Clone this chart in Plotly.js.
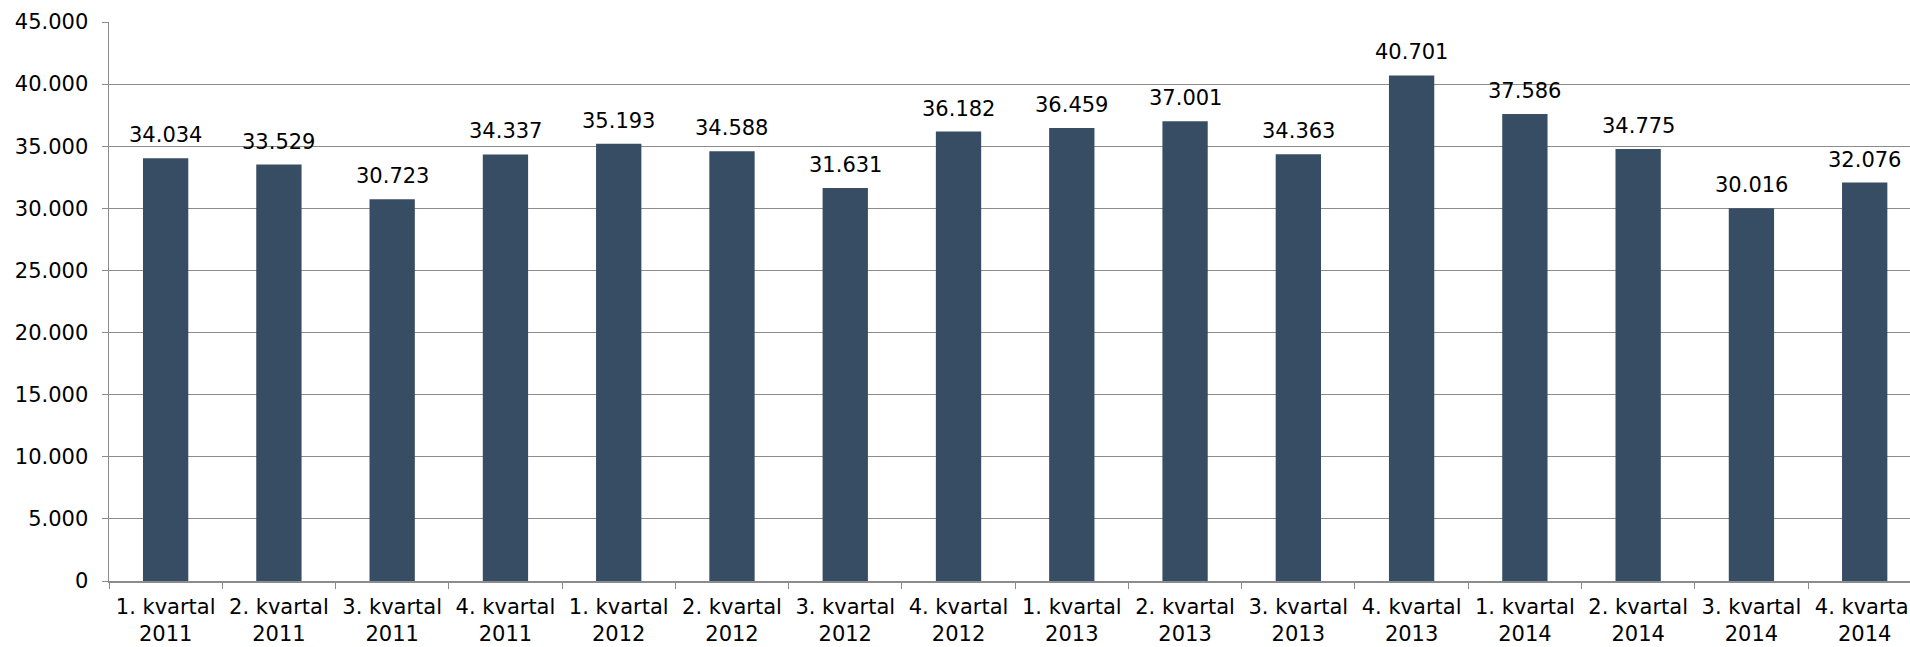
<!DOCTYPE html>
<html>
<head>
<meta charset="utf-8">
<script src="https://cdn.plot.ly/plotly-3.0.1.min.js"></script>
<style>
html,body{margin:0;padding:0;background:#fff;overflow:hidden;}
#chart{width:1910px;height:647px;}
</style>
</head>
<body>
<div id="chart"></div>
<script>
const categories = [
  "1. kvartal<br>2011","2. kvartal<br>2011","3. kvartal<br>2011","4. kvartal<br>2011",
  "1. kvartal<br>2012","2. kvartal<br>2012","3. kvartal<br>2012","4. kvartal<br>2012",
  "1. kvartal<br>2013","2. kvartal<br>2013","3. kvartal<br>2013","4. kvartal<br>2013",
  "1. kvartal<br>2014","2. kvartal<br>2014","3. kvartal<br>2014","4. kvartal<br>2014"
];
const values = [34034,33529,30723,34337,35193,34588,31631,36182,36459,37001,34363,40701,37586,34775,30016,32076];
const yTicks = [0,5000,10000,15000,20000,25000,30000,35000,40000,45000];

const FONT = 'DejaVu Sans, Verdana, sans-serif';

function fmt(v) {
  return String(v).replace(/\B(?=(\d{3})+(?!\d))/g, '.');
}

const trace = {
  type: 'bar',
  x: categories,
  y: values,
  marker: {color: '#374d63'},
  width: 0.4,
  hoverinfo: 'none'
};

const annotations = categories.map((c, i) => ({
  x: c,
  y: values[i],
  xref: 'x',
  yref: 'y',
  text: fmt(values[i]),
  showarrow: false,
  yanchor: 'bottom',
  xanchor: 'center',
  yshift: 9,
  font: {family: FONT, size: 21, color: '#000'}
}));

const layout = {
  width: 1910,
  height: 647,
  separators: ',.',
  margin: {l: 109, r: 0, t: 22, b: 66},
  paper_bgcolor: '#fff',
  plot_bgcolor: '#fff',
  showlegend: false,
  font: {family: FONT, size: 21, color: '#000'},
  annotations: annotations,
  xaxis: {
    type: 'category',
    range: [-0.5, 15.4],
    showgrid: false,
    showline: true,
    linecolor: '#8c8c8c',
    linewidth: 1.5,
    ticks: 'outside',
    tickson: 'boundaries',
    ticklen: 6,
    tickcolor: '#8c8c8c',
    ticklabelstandoff: 6,
    tickfont: {family: FONT, size: 21, color: '#000'},
    zeroline: false
  },
  yaxis: {
    range: [0, 45000],
    tickvals: yTicks,
    tickformat: ',d',
    showgrid: true,
    gridcolor: '#8c8c8c',
    gridwidth: 1.2,
    showline: true,
    linecolor: '#8c8c8c',
    linewidth: 1.5,
    ticks: 'outside',
    ticklen: 6,
    tickcolor: '#8c8c8c',
    ticklabelstandoff: 9,
    zeroline: false,
    tickfont: {family: FONT, size: 21, color: '#000'}
  }
};

Plotly.newPlot('chart', [trace], layout, {displayModeBar: false, staticPlot: true});
</script>
</body>
</html>
